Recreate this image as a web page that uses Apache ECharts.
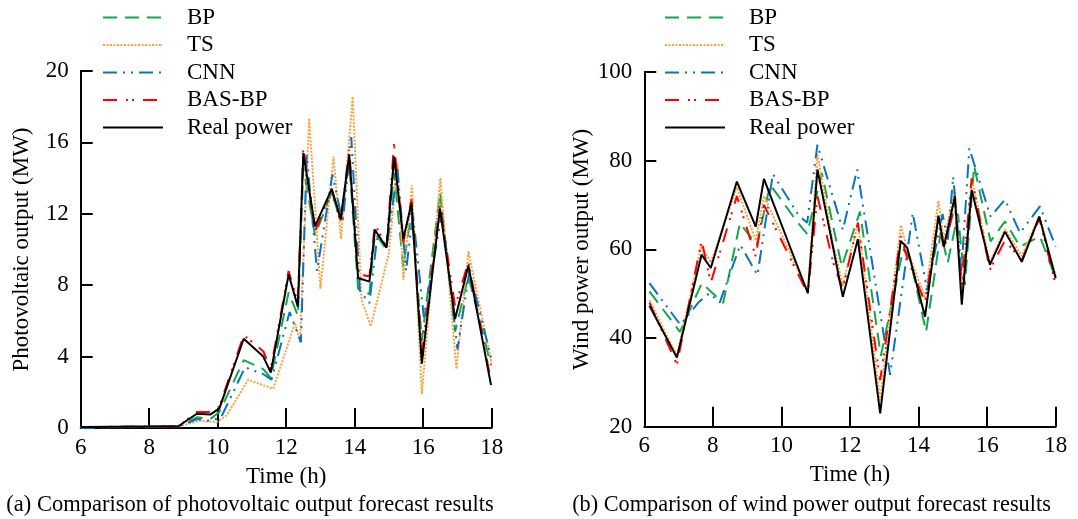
<!DOCTYPE html>
<html><head><meta charset="utf-8">
<script src="https://cdn.jsdelivr.net/npm/echarts@6/dist/echarts.min.js"></script>
<style>html,body{margin:0;padding:0;background:#fff}#c{width:1078px;height:519px}</style>
</head><body><div id="c"></div>
<script>
// ---------- (a) photovoltaic ----------
const pvTime = [6.0, 8.85, 9.39, 9.78, 10.05, 10.76, 11.33, 11.55, 12.07, 12.34, 12.5, 12.84, 13.33, 13.59, 13.84, 14.1, 14.43, 14.59, 14.93, 15.15, 15.42, 15.66, 15.96, 16.49, 16.93, 17.32, 17.98];
const pvReal = [0.05, 0.1, 0.8, 0.75, 1.1, 5.0, 4.0, 3.1, 8.6, 6.8, 15.4, 11.3, 13.4, 11.7, 15.3, 8.4, 8.2, 11.1, 10.1, 15.2, 10.6, 12.6, 3.6, 12.3, 6.1, 9.1, 2.4];
const pvBAS  = [0.05, 0.1, 0.9, 0.9, 1.2, 5.2, 4.3, 3.3, 8.8, 7.0, 15.7, 11.0, 13.3, 11.5, 15.6, 8.6, 8.5, 11.4, 10.2, 15.95, 10.4, 12.8, 4.2, 12.5, 6.8, 9.3, 2.6];
const pvBP   = [0.02, 0.1, 0.6, 0.5, 0.9, 3.8, 3.3, 2.8, 7.6, 6.3, 14.6, 10.8, 13.2, 11.6, 14.9, 7.8, 7.5, 10.9, 10.0, 14.3, 9.0, 12.2, 4.9, 13.2, 5.4, 8.5, 3.5];
const pvTimeTS = [6.0, 8.9, 9.45, 9.97, 10.26, 10.89, 11.62, 12.26, 12.4, 12.67, 13.0, 13.38, 13.6, 13.94, 14.2, 14.47, 15.0, 15.25, 15.42, 15.67, 15.96, 16.5, 16.97, 17.32, 18.0];
const pvTS     = [0.05, 0.1, 0.4, 0.33, 0.7, 2.7, 2.2, 5.9, 4.8, 17.35, 7.8, 15.2, 10.6, 18.56, 7.2, 5.7, 9.8, 14.8, 8.3, 13.6, 1.9, 14.0, 3.3, 9.9, 3.6];
const pvTimeCNN = [6.0, 8.85, 9.4, 9.8, 10.1, 10.8, 11.35, 11.57, 12.1, 12.43, 12.6, 12.9, 13.35, 13.65, 13.9, 14.15, 14.43, 14.65, 14.95, 15.25, 15.5, 15.7, 16.02, 16.55, 17.0, 17.35, 18.0];
const pvCNN     = [0.02, 0.08, 0.5, 0.4, 0.6, 3.4, 3.0, 2.7, 6.5, 4.8, 15.3, 8.8, 14.2, 11.5, 16.3, 7.7, 7.0, 10.6, 10.3, 14.5, 8.8, 12.0, 6.2, 12.1, 4.4, 8.8, 3.8];

// ---------- (b) wind ----------
const wTime = [6.15, 6.95, 7.67, 7.94, 8.7, 9.25, 9.49, 10.77, 11.05, 11.51, 11.79, 12.23, 12.88, 13.48, 13.67, 14.19, 14.58, 14.74, 15.06, 15.26, 15.55, 16.08, 16.52, 17.01, 17.52, 18.0];
const wReal = [47.3, 35.6, 58.8, 55.8, 75.3, 65.1, 75.9, 50.1, 78.0, 60.3, 49.3, 62.3, 23.0, 61.9, 60.3, 44.8, 67.6, 60.6, 71.9, 47.5, 73.4, 56.5, 64.0, 57.2, 67.4, 53.5];
const wBAS  = [48, 34, 62, 52.5, 72, 58.4, 70, 50, 72, 57, 51, 66, 30.5, 63, 58, 48, 67, 60, 70, 52, 76, 55.4, 62, 57.5, 67, 52];
const wTS   = [48.5, 36, 61, 57, 74, 62, 72, 50.5, 81.5, 61, 52, 66, 26, 65.5, 60, 49, 71, 62, 73.5, 50, 76, 57, 64.5, 58.5, 67.5, 54];
const wTimeBP = [6.15, 7.04, 7.68, 8.3, 8.79, 9.28, 9.67, 10.45, 10.75, 11.18, 11.76, 12.29, 12.9, 13.55, 13.75, 14.22, 14.65, 14.85, 15.15, 15.35, 15.62, 16.1, 16.52, 16.96, 17.54, 18.0];
const wBP     = [50.5, 41.4, 52.4, 47.9, 65.9, 61, 74.6, 66.3, 63.5, 77.2, 56.1, 68.5, 36, 60, 58, 41.4, 64, 57, 68, 52, 78.8, 61.8, 66.3, 60.6, 62.9, 53.5];
const wTimeCNN = [6.15, 7.05, 7.6, 7.9, 8.2, 8.8, 9.3, 9.75, 10.5, 10.75, 11.05, 11.79, 12.21, 13.17, 13.83, 14.25, 14.7, 14.85, 15.01, 15.25, 15.48, 16.1, 16.52, 16.96, 17.54, 18.0];
const wCNN     = [52.4, 43, 48.2, 50.1, 48, 61, 54.2, 77, 67.7, 66, 83.6, 64.4, 78, 31.7, 68.2, 50.8, 68, 62, 76.4, 55, 82.8, 67.4, 71.2, 63.7, 69.7, 60.6];

const seriesNames = ['BP', 'TS', 'CNN', 'BAS-BP', 'Real power'];

const FONT = 'Liberation Serif, Times New Roman, serif';
const FS = 23;
const colors = {BP:'#12a84a', TS:'#ff9f3a', CNN:'#0a72c2', 'BAS-BP':'#ff0000', 'Real power':'#000000'};
const dashes = {BP:[14,8], TS:[2,1.5], CNN:[14,6,2,6,2,6], 'BAS-BP':[14,9,2,4,2,9], 'Real power':'solid'};

function pairs(t, v){ return t.map((x,i)=>[x, v[i]]); }
function mk(name, data, idx){
  return {name, type:'line', xAxisIndex:idx, yAxisIndex:idx, data, symbol:'none', showSymbol:false,
    animation:false, lineStyle:{color:colors[name], width:2, type:dashes[name]}, itemStyle:{color:colors[name]}};
}
function xAx(idx){
  return {gridIndex:idx, type:'value', min:6, max:18, interval:2, name:'Time (h)', nameLocation:'middle', nameGap:37,
    nameTextStyle:{fontFamily:FONT, fontSize:FS, color:'#000'},
    axisLine:{lineStyle:{color:'#000', width:2}}, axisTick:{inside:true, length:20, lineStyle:{color:'#000', width:2}},
    axisLabel:{fontFamily:FONT, fontSize:FS, color:'#000', margin:8}, splitLine:{show:false}};
}
function yAx(idx, min, max, itv, name, gap){
  return {gridIndex:idx, type:'value', min, max, interval:itv, name, nameLocation:'middle', nameGap:gap,
    nameTextStyle:{fontFamily:FONT, fontSize:FS, color:'#000'},
    axisLine:{show:true, lineStyle:{color:'#000', width:2}}, axisTick:{show:true, inside:true, length:12, lineStyle:{color:'#000', width:2}},
    axisLabel:{fontFamily:FONT, fontSize:FS, color:'#000', margin:12}, splitLine:{show:false}};
}
function legend(left){
  return {orient:'vertical', left, top:6, padding:0, itemWidth:60, itemHeight:14, itemGap:4.5, selectedMode:false,
    itemStyle:{opacity:0}, data:seriesNames,
    textStyle:{fontFamily:FONT, fontSize:FS, color:'#000', padding:[0,0,0,19], lineHeight:22}};
}

const chart = echarts.init(document.getElementById('c'), null, {renderer:'canvas'});
const opt = {
  animation:false,
  backgroundColor:'#fff',
  grid:[{left:80.7, top:71, width:411, height:357}, {left:644.3, top:72, width:411.4, height:354.7}],
  xAxis:[xAx(0), xAx(1)],
  yAxis:[yAx(0, 0, 20, 4, 'Photovoltaic output (MW)', 47), yAx(1, 20, 100, 20, 'Wind power output (MW)', 46)],
  legend:[legend(102), legend(664)],
  series:[
    mk('BP', pairs(pvTime, pvBP), 0),
    mk('TS', pairs(pvTimeTS, pvTS), 0),
    mk('CNN', pairs(pvTimeCNN, pvCNN), 0),
    mk('BAS-BP', pairs(pvTime, pvBAS), 0),
    mk('Real power', pairs(pvTime, pvReal), 0),
    mk('BP', pairs(wTimeBP, wBP), 1),
    mk('TS', pairs(wTime, wTS), 1),
    mk('CNN', pairs(wTimeCNN, wCNN), 1),
    mk('BAS-BP', pairs(wTime, wBAS), 1),
    mk('Real power', pairs(wTime, wReal), 1)
  ],
  graphic:[
    {type:'text', x:250, y:505, style:{text:'(a) Comparison of photovoltaic output forecast results', font:'22.5px '+FONT, fill:'#000', textAlign:'center', textVerticalAlign:'middle'}},
    {type:'text', x:811.5, y:505, style:{text:'(b) Comparison of wind power output forecast results', font:'22.3px '+FONT, fill:'#000', textAlign:'center', textVerticalAlign:'middle'}}
  ]
};
chart.setOption(opt);
</script></body></html>
